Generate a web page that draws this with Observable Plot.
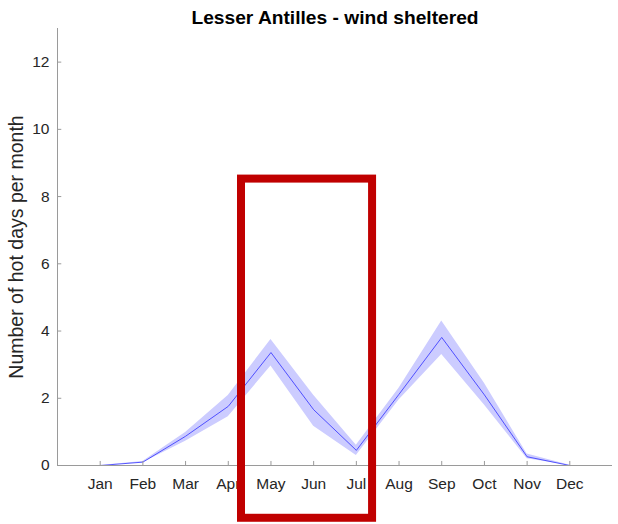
<!DOCTYPE html>
<html>
<head>
<meta charset="utf-8">
<script src="https://cdn.jsdelivr.net/npm/d3@7"></script>
<script src="https://cdn.jsdelivr.net/npm/@observablehq/plot@0.6"></script>
<style>
  html, body { margin: 0; padding: 0; background: #fff; }
</style>
</head>
<body>
<div id="chart"></div>
<script>
const titleText = "Lesser Antilles - wind sheltered";
const yLabel = "Number of hot days per month";
const monthLabels = ["Jan","Feb","Mar","Apr","May","Jun","Jul","Aug","Sep","Oct","Nov","Dec"];
const monthIndex = [1,2,3,4,5,6,7,8,9,10,11,12];
const meanDays  = [0, 0.10, 0.87, 1.76, 3.36, 1.66, 0.45, 2.12, 3.81, 2.10, 0.26, 0];
const upperDays = [0, 0.12, 0.98, 2.08, 3.75, 2.09, 0.60, 2.30, 4.30, 2.45, 0.34, 0.01];
const lowerDays = [0, 0.08, 0.72, 1.45, 2.96, 1.17, 0.30, 1.95, 3.30, 1.80, 0.20, 0];
const yTicks = [0, 2, 4, 6, 8, 10, 12];
// highlight annotation box (data units: month index, days)
const highlightBox = [{x1: 4.31, x2: 7.38, y1: -1.57, y2: 8.52}];

const data = monthIndex.map((m, i) => ({m, mean: meanDays[i], hi: upperDays[i], lo: lowerDays[i]}));

const axisColor = "#9a9a9a";
const textColor = "#262626";

const chart = Plot.plot({
  width: 618,
  height: 524,
  marginTop: 28,
  marginBottom: 59,
  marginLeft: 57,
  marginRight: 6,
  style: {fontFamily: "'Liberation Sans', Arial, sans-serif", background: "#fff"},
  x: {domain: [0, 13], axis: null},
  y: {domain: [0, 13], axis: null},
  marks: [
    Plot.areaY(data, {x: "m", y1: "lo", y2: "hi", fill: "#ccccff"}),
    Plot.line(data, {x: "m", y: "mean", stroke: "#3030ff", strokeWidth: 0.8}),
    Plot.ruleX([0], {stroke: axisColor, strokeWidth: 1}),
    Plot.ruleY([0], {stroke: axisColor, strokeWidth: 1}),
    Plot.ruleX(monthIndex, {x: d => d, y1: 0, y2: 0.12, stroke: axisColor}),
    Plot.ruleY(yTicks, {y: d => d, x1: 0, x2: 0.1, stroke: axisColor}),
    Plot.axisX({ticks: monthIndex, tickFormat: d => monthLabels[d - 1], tickSize: 0, tickPadding: 12, fontSize: 15.5, fill: textColor, label: null}),
    Plot.axisY({ticks: yTicks, tickSize: 0, tickPadding: 8, fontSize: 15.5, fill: textColor, label: null}),
    Plot.text([yLabel], {frameAnchor: "left", rotate: -90, dx: -41, textAnchor: "middle", lineAnchor: "middle", fontSize: 19.5, fill: textColor}),
    Plot.text([titleText], {frameAnchor: "top", dy: -11, textAnchor: "middle", lineAnchor: "middle", fontSize: 19.2, fontWeight: "bold", fill: "#000"}),
    Plot.rect(highlightBox, {x1: "x1", x2: "x2", y1: "y1", y2: "y2", fill: "none", stroke: "#c00000", strokeWidth: 8, clip: false})
  ]
});
document.getElementById("chart").appendChild(chart);
</script>
</body>
</html>
